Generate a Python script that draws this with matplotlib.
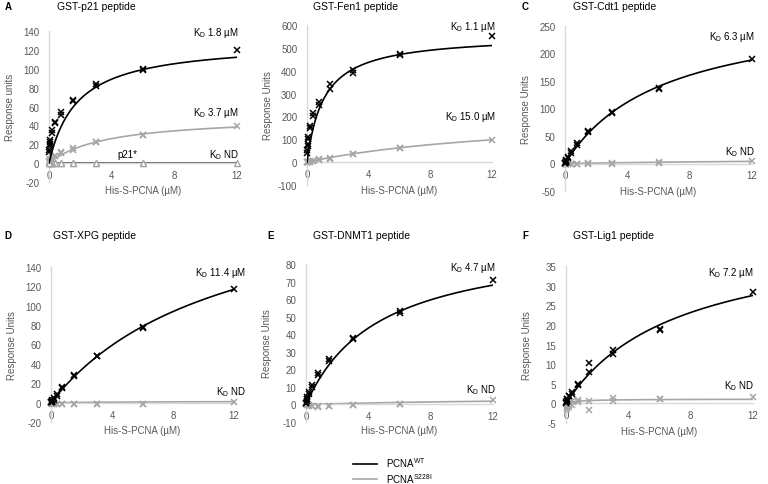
import numpy as np
import matplotlib
matplotlib.use('Agg')
import matplotlib.pyplot as plt
from matplotlib.lines import Line2D

plt.rcParams['font.family'] = ['Liberation Sans', 'DejaVu Sans']
plt.rcParams['axes.unicode_minus'] = False

W, H = 768, 485
GREY = '#a6a6a6'
TXT = '#595959'

# concentrations (uM), duplicates except top point
conc = [12, 6, 6, 3, 3, 1.5, 1.5, 0.75, 0.75, 0.375, 0.375, 0.1875, 0.1875,
        0.094, 0.094, 0.047, 0.047, 0.023, 0.023]

# panel A - p21
a_wt = [120, 100, 99, 84, 82, 67, 66, 54, 51, 44, 42, 35, 32, 25, 22, 20, 18, 14, 12]
a_mut = [39, 30, 30, 22, 22, 16, 14, 12, 11, 8, 8, 6, 5, 4, 3, 2, 2, 1, 1]
a_star = [0, 0.5, 0, 0.3, 0, 0.5, 0, 0.5, 0, 0.3, 0, 0.5, 0, 0.3, 0, 0, 0, 0, 0]
# panel B - Fen1
b_wt = [550, 475, 470, 405, 390, 340, 320, 265, 250, 215, 200, 160, 150, 110, 100, 80, 70, 55, 40]
b_mut = [98, 62, 62, 37, 36, 20, 15, 12, 11, 6, 5, 3, 2, 1, 1, 0, 0, 0, 0]
# panel C - Cdt1
c_wt = [190, 137, 135, 93, 92, 60, 57, 37, 34, 22, 19, 12, 10, 6, 5, 3, 2, 1, 1]
c_mut = [4, 2, 1, 1, 0, 0.5, 0, 0, 0, 0, 0, 0, 0, 0, 0, 0, 0, 0, 0]
# panel D - XPG
d_wt = [117, 78, 77, 48, 48, 29, 27, 16, 15, 9, 7, 5, 3, 3, 2, 1, 1, 0.5, 0.5]
d_mut = [1, -1, -1, -1, -1, -1, -1, -1, -1, -1, -1, -1, -1, -1, -1, 0, 0, 0, 0]
# panel E - DNMT1
e_wt = [71, 53, 52, 38, 37, 26, 25, 18, 17, 11, 10, 7, 6, 4, 3, 3, 2, 1, 1]
e_mut = [2.5, 0.5, 0, -0.5, -0.5, -1, -1, -1, -1.2, -1, -1, -0.5, -1, 0, -0.5, 0, 0, 0, 0]
# panel F - Lig1
f_wt = [28.5, 19, 18.7, 13.5, 12.5, 10.2, 8, 5, 4.8, 3, 2.5, 2, 1.8, 1.2, 1, 0.6, 0.5, 0.3, 0.2]
f_mut = [1.5, 1.2, 1.1, 1.3, 0.5, 0.7, -1.8, 0.8, 0.3, 0.5, -0.5, -0.5, -1, -1, -1.5, -1, -0.5, 0, 0]

# one-site binding fits (Bmax, Kd)
fits = {
    'A': [(129, 1.8), (50, 3.7)],
    'B': [(557, 1.1), (220, 15.0)],
    'C': [(287, 6.3), (12, 25)],
    'D': [(228, 11.4), (2, 12)],
    'E': [(94.6, 4.7), (5, 20)],
    'F': [(44, 7.2), (1.1, 0.8)],
}

panels = [
    # key, letter shown, title, ylabel, wt, mut, ylim, ystep, kd labels, box px (l, r, top, bottom)
    ('A', 'A', 'GST-p21 peptide', 'Response units', a_wt, a_mut, (-20, 140), 20,
     ['1.8 µM', '3.7 µM'], (49, 237, 32, 183)),
    ('B', '', 'GST-Fen1 peptide', 'Response Units', b_wt, b_mut, (-100, 600), 100,
     ['1.1 µM', '15.0 µM'], (307, 492, 26, 186)),
    ('C', 'C', 'GST-Cdt1 peptide', 'Response Units', c_wt, c_mut, (-50, 250), 50,
     ['6.3 µM', 'ND'], (565, 752, 27, 192)),
    ('D', 'D', 'GST-XPG peptide', 'Response Units', d_wt, d_mut, (-20, 140), 20,
     ['11.4 µM', 'ND'], (51, 234, 268, 423)),
    ('E', 'E', 'GST-DNMT1 peptide', 'Response Units', e_wt, e_mut, (-10, 80), 10,
     ['4.7 µM', 'ND'], (306, 493, 265, 423)),
    ('F', 'F', 'GST-Lig1 peptide', 'Response Units', f_wt, f_mut, (-5, 35), 5,
     ['7.2 µM', 'ND'], (566, 753, 267, 424)),
]

# header px: letter x, title x, y ; x-label y
head_px = {'A': (8, 57, 7), 'B': (270, 313, 7), 'C': (525, 573, 7),
           'D': (8, 53, 236), 'E': (271, 313, 236), 'F': (525, 573, 236)}
xlab_y = {'A': 191, 'B': 191, 'C': 192, 'D': 431, 'E': 431, 'F': 432}
# Kd label px: wt y, mut y, right edge
label_px = {
    'A': (33, 113, 239), 'B': (27, 117, 496), 'C': (37, 152, 755),
    'D': (273, 392, 246), 'E': (268, 390, 496), 'F': (273, 386, 754),
}

fig = plt.figure(figsize=(W / 100, H / 100), dpi=100)
xs = np.linspace(0, 12, 300)

for key, letter, title, ylab, wt, mut, ylim, ystep, kds, (l, r, t, b) in panels:
    w, h = r - l, b - t
    ax = fig.add_axes([l / W, 1 - b / H, w / W, h / H])
    ax.set_xlim(0, 12)
    ax.set_ylim(*ylim)
    ax.set_xticks([0, 4, 8, 12])
    ax.set_yticks(np.arange(ylim[0], ylim[1] + ystep / 2, ystep))
    for s in ['top', 'right']:
        ax.spines[s].set_visible(False)
    ax.spines['bottom'].set_position(('data', 0))
    for s in ['left', 'bottom']:
        ax.spines[s].set_color('#d9d9d9')
        ax.spines[s].set_linewidth(1.0)
    ax.tick_params(length=0, labelsize=7, colors=TXT)
    ax.tick_params(axis='x', pad=5)
    ax.tick_params(axis='y', pad=7)
    ax.set_ylabel(ylab, fontsize=7, color=TXT, va='center')
    ax.yaxis.set_label_coords(-39 / w, 0.5)
    ax.set_xlabel('His-S-PCNA (µM)', fontsize=7, color=TXT, va='center')
    ax.xaxis.set_label_coords(0.5, (b - xlab_y[key]) / h)
    ax.patch.set_alpha(0)

    (bw, kw), (bm, km) = fits[key]
    ax.plot(xs, bm * xs / (km + xs), color=GREY, lw=1.2, zorder=2)
    ax.plot(conc, mut, 'x', color=GREY, ms=5, mew=1.1, clip_on=False, zorder=3)
    if key == 'A':
        ax.plot(xs, 0 * xs, color='#404040', lw=1.2, zorder=2)
        ax.plot(conc, a_star, '^', color=GREY, mfc='white', ms=4.5, mew=1.0,
                clip_on=False, zorder=3)
    ax.plot(xs, bw * xs / (kw + xs), color='black', lw=1.2, zorder=4)
    ax.plot(conc, wt, 'x', color='black', ms=5, mew=1.1, clip_on=False, zorder=5)

    lx, tx, ty = head_px[key]
    if letter:
        fig.text(lx / W, 1 - ty / H, letter, fontsize=7, fontweight='bold',
                 ha='center', va='center')
    fig.text(tx / W, 1 - ty / H, title, fontsize=7.5, va='center')

    y1, y2, xr = label_px[key]
    fig.text(xr / W, 1 - y1 / H, r'K$_\mathregular{D}$ ' + kds[0], fontsize=7,
             color='black', ha='right', va='center')
    fig.text(xr / W, 1 - y2 / H, r'K$_\mathregular{D}$ ' + kds[1], fontsize=7,
             color='black', ha='right', va='center')
    if key == 'A':
        fig.text(127 / W, 1 - 155 / H, 'p21*', fontsize=7, color='black',
                 ha='center', va='center')
        fig.text(xr / W, 1 - 155 / H, r'K$_\mathregular{D}$ ND', fontsize=7,
                 color='black', ha='right', va='center')

handles = [Line2D([], [], color='black', lw=1.2), Line2D([], [], color=GREY, lw=1.2)]
fig.legend(handles, [r'PCNA$^\mathregular{WT}$', r'PCNA$^\mathregular{S228I}$'],
           loc='center left', bbox_to_anchor=(348 / W, 1 - 471 / H), frameon=False,
           fontsize=7, handlelength=2.5, handletextpad=0.9, labelspacing=0.15,
           borderpad=0)

fig.savefig('out.png', dpi=100)
